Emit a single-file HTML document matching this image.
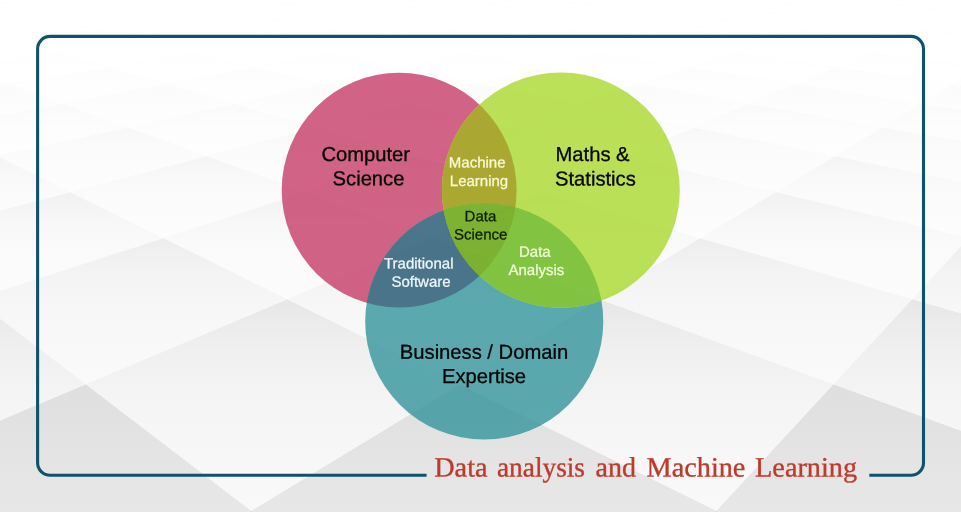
<!DOCTYPE html>
<html><head><meta charset="utf-8"><title>Data analysis and Machine Learning</title>
<style>
html,body{margin:0;padding:0;background:#f4f4f4;}
body{width:961px;height:512px;overflow:hidden;position:relative;font-family:"Liberation Sans",sans-serif;}
svg{position:absolute;left:0;top:0;display:block;}
text{font-family:"Liberation Sans",sans-serif;}
.big{font-size:20.2px;fill:#050505;stroke:#050505;stroke-width:0.3px;}
.sm{font-size:15px;}
.w{fill:#fdfbd6;stroke:#fdfbd6;stroke-width:0.25px;}
.wb{fill:#f2f8fc;stroke:#f2f8fc;}
.wg{fill:#f4fbdc;stroke:#f4fbdc;}
.k{fill:#0d1a05;stroke:#0d1a05;stroke-width:0.25px;}
.title{font-family:"Liberation Serif",serif;font-size:28px;fill:#be3a2a;stroke:#be3a2a;stroke-width:0.35px;}
</style></head><body>
<svg width="961" height="512" viewBox="0 0 961 512">
<defs>
<linearGradient id="g0" gradientUnits="userSpaceOnUse" x1="0" y1="510.6" x2="0" y2="1127.1"><stop offset="0" stop-color="rgb(212,212,213)"/><stop offset="0.22" stop-color="rgb(218,218,218)"/><stop offset="0.5" stop-color="rgb(226,226,226)"/><stop offset="1" stop-color="rgb(240,240,240)"/></linearGradient>
<linearGradient id="g1" gradientUnits="userSpaceOnUse" x1="0" y1="510.6" x2="0" y2="1127.1"><stop offset="0" stop-color="rgb(212,212,213)"/><stop offset="0.22" stop-color="rgb(218,218,218)"/><stop offset="0.5" stop-color="rgb(226,226,226)"/><stop offset="1" stop-color="rgb(240,240,240)"/></linearGradient>
<linearGradient id="g2" gradientUnits="userSpaceOnUse" x1="0" y1="384.0" x2="0" y2="719.2"><stop offset="0" stop-color="rgb(223,223,224)"/><stop offset="0.22" stop-color="rgb(228,228,228)"/><stop offset="0.5" stop-color="rgb(234,234,234)"/><stop offset="1" stop-color="rgb(246,246,246)"/></linearGradient>
<linearGradient id="g3" gradientUnits="userSpaceOnUse" x1="0" y1="384.0" x2="0" y2="719.2"><stop offset="0" stop-color="rgb(223,223,224)"/><stop offset="0.22" stop-color="rgb(228,228,228)"/><stop offset="0.5" stop-color="rgb(234,234,234)"/><stop offset="1" stop-color="rgb(246,246,246)"/></linearGradient>
<linearGradient id="g4" gradientUnits="userSpaceOnUse" x1="0" y1="384.0" x2="0" y2="719.2"><stop offset="0" stop-color="rgb(223,223,224)"/><stop offset="0.22" stop-color="rgb(228,228,228)"/><stop offset="0.5" stop-color="rgb(234,234,234)"/><stop offset="1" stop-color="rgb(246,246,246)"/></linearGradient>
<linearGradient id="g5" gradientUnits="userSpaceOnUse" x1="0" y1="299.0" x2="0" y2="510.6"><stop offset="0" stop-color="rgb(231,231,232)"/><stop offset="0.22" stop-color="rgb(239,239,239)"/><stop offset="0.5" stop-color="rgb(245,245,245)"/><stop offset="1" stop-color="rgb(249,249,249)"/></linearGradient>
<linearGradient id="g6" gradientUnits="userSpaceOnUse" x1="0" y1="299.0" x2="0" y2="510.6"><stop offset="0" stop-color="rgb(231,231,232)"/><stop offset="0.22" stop-color="rgb(239,239,239)"/><stop offset="0.5" stop-color="rgb(245,245,245)"/><stop offset="1" stop-color="rgb(249,249,249)"/></linearGradient>
<linearGradient id="g7" gradientUnits="userSpaceOnUse" x1="0" y1="299.0" x2="0" y2="510.6"><stop offset="0" stop-color="rgb(231,231,232)"/><stop offset="0.22" stop-color="rgb(239,239,239)"/><stop offset="0.5" stop-color="rgb(245,245,245)"/><stop offset="1" stop-color="rgb(249,249,249)"/></linearGradient>
<linearGradient id="g8" gradientUnits="userSpaceOnUse" x1="0" y1="299.0" x2="0" y2="510.6"><stop offset="0" stop-color="rgb(231,231,232)"/><stop offset="0.22" stop-color="rgb(239,239,239)"/><stop offset="0.5" stop-color="rgb(245,245,245)"/><stop offset="1" stop-color="rgb(249,249,249)"/></linearGradient>
<linearGradient id="g9" gradientUnits="userSpaceOnUse" x1="0" y1="237.9" x2="0" y2="384.0"><stop offset="0" stop-color="rgb(237,237,238)"/><stop offset="0.22" stop-color="rgb(243,243,243)"/><stop offset="0.5" stop-color="rgb(247,247,247)"/><stop offset="1" stop-color="rgb(250,250,250)"/></linearGradient>
<linearGradient id="g10" gradientUnits="userSpaceOnUse" x1="0" y1="237.9" x2="0" y2="384.0"><stop offset="0" stop-color="rgb(237,237,238)"/><stop offset="0.22" stop-color="rgb(243,243,243)"/><stop offset="0.5" stop-color="rgb(247,247,247)"/><stop offset="1" stop-color="rgb(250,250,250)"/></linearGradient>
<linearGradient id="g11" gradientUnits="userSpaceOnUse" x1="0" y1="237.9" x2="0" y2="384.0"><stop offset="0" stop-color="rgb(237,237,238)"/><stop offset="0.22" stop-color="rgb(243,243,243)"/><stop offset="0.5" stop-color="rgb(247,247,247)"/><stop offset="1" stop-color="rgb(250,250,250)"/></linearGradient>
<linearGradient id="g12" gradientUnits="userSpaceOnUse" x1="0" y1="237.9" x2="0" y2="384.0"><stop offset="0" stop-color="rgb(237,237,238)"/><stop offset="0.22" stop-color="rgb(243,243,243)"/><stop offset="0.5" stop-color="rgb(247,247,247)"/><stop offset="1" stop-color="rgb(250,250,250)"/></linearGradient>
<linearGradient id="g13" gradientUnits="userSpaceOnUse" x1="0" y1="192.0" x2="0" y2="299.0"><stop offset="0" stop-color="rgb(241,241,242)"/><stop offset="0.22" stop-color="rgb(246,246,246)"/><stop offset="0.5" stop-color="rgb(250,250,250)"/><stop offset="1" stop-color="rgb(252,252,252)"/></linearGradient>
<linearGradient id="g14" gradientUnits="userSpaceOnUse" x1="0" y1="192.0" x2="0" y2="299.0"><stop offset="0" stop-color="rgb(241,241,242)"/><stop offset="0.22" stop-color="rgb(246,246,246)"/><stop offset="0.5" stop-color="rgb(250,250,250)"/><stop offset="1" stop-color="rgb(252,252,252)"/></linearGradient>
<linearGradient id="g15" gradientUnits="userSpaceOnUse" x1="0" y1="192.0" x2="0" y2="299.0"><stop offset="0" stop-color="rgb(241,241,242)"/><stop offset="0.22" stop-color="rgb(246,246,246)"/><stop offset="0.5" stop-color="rgb(250,250,250)"/><stop offset="1" stop-color="rgb(252,252,252)"/></linearGradient>
<linearGradient id="g16" gradientUnits="userSpaceOnUse" x1="0" y1="192.0" x2="0" y2="299.0"><stop offset="0" stop-color="rgb(241,241,242)"/><stop offset="0.22" stop-color="rgb(246,246,246)"/><stop offset="0.5" stop-color="rgb(250,250,250)"/><stop offset="1" stop-color="rgb(252,252,252)"/></linearGradient>
<linearGradient id="g17" gradientUnits="userSpaceOnUse" x1="0" y1="156.1" x2="0" y2="237.9"><stop offset="0" stop-color="rgb(244,244,245)"/><stop offset="0.22" stop-color="rgb(248,248,248)"/><stop offset="0.5" stop-color="rgb(251,251,251)"/><stop offset="1" stop-color="rgb(253,253,253)"/></linearGradient>
<linearGradient id="g18" gradientUnits="userSpaceOnUse" x1="0" y1="156.1" x2="0" y2="237.9"><stop offset="0" stop-color="rgb(244,244,245)"/><stop offset="0.22" stop-color="rgb(248,248,248)"/><stop offset="0.5" stop-color="rgb(251,251,251)"/><stop offset="1" stop-color="rgb(253,253,253)"/></linearGradient>
<linearGradient id="g19" gradientUnits="userSpaceOnUse" x1="0" y1="156.1" x2="0" y2="237.9"><stop offset="0" stop-color="rgb(244,244,245)"/><stop offset="0.22" stop-color="rgb(248,248,248)"/><stop offset="0.5" stop-color="rgb(251,251,251)"/><stop offset="1" stop-color="rgb(253,253,253)"/></linearGradient>
<linearGradient id="g20" gradientUnits="userSpaceOnUse" x1="0" y1="156.1" x2="0" y2="237.9"><stop offset="0" stop-color="rgb(244,244,245)"/><stop offset="0.22" stop-color="rgb(248,248,248)"/><stop offset="0.5" stop-color="rgb(251,251,251)"/><stop offset="1" stop-color="rgb(253,253,253)"/></linearGradient>
<linearGradient id="g21" gradientUnits="userSpaceOnUse" x1="0" y1="156.1" x2="0" y2="237.9"><stop offset="0" stop-color="rgb(244,244,245)"/><stop offset="0.22" stop-color="rgb(248,248,248)"/><stop offset="0.5" stop-color="rgb(251,251,251)"/><stop offset="1" stop-color="rgb(253,253,253)"/></linearGradient>
<linearGradient id="g22" gradientUnits="userSpaceOnUse" x1="0" y1="127.4" x2="0" y2="192.0"><stop offset="0" stop-color="rgb(247,247,248)"/><stop offset="0.22" stop-color="rgb(250,250,250)"/><stop offset="0.5" stop-color="rgb(252,252,252)"/><stop offset="1" stop-color="rgb(253,253,253)"/></linearGradient>
<linearGradient id="g23" gradientUnits="userSpaceOnUse" x1="0" y1="127.4" x2="0" y2="192.0"><stop offset="0" stop-color="rgb(247,247,248)"/><stop offset="0.22" stop-color="rgb(250,250,250)"/><stop offset="0.5" stop-color="rgb(252,252,252)"/><stop offset="1" stop-color="rgb(253,253,253)"/></linearGradient>
<linearGradient id="g24" gradientUnits="userSpaceOnUse" x1="0" y1="127.4" x2="0" y2="192.0"><stop offset="0" stop-color="rgb(247,247,248)"/><stop offset="0.22" stop-color="rgb(250,250,250)"/><stop offset="0.5" stop-color="rgb(252,252,252)"/><stop offset="1" stop-color="rgb(253,253,253)"/></linearGradient>
<linearGradient id="g25" gradientUnits="userSpaceOnUse" x1="0" y1="127.4" x2="0" y2="192.0"><stop offset="0" stop-color="rgb(247,247,248)"/><stop offset="0.22" stop-color="rgb(250,250,250)"/><stop offset="0.5" stop-color="rgb(252,252,252)"/><stop offset="1" stop-color="rgb(253,253,253)"/></linearGradient>
<linearGradient id="g26" gradientUnits="userSpaceOnUse" x1="0" y1="127.4" x2="0" y2="192.0"><stop offset="0" stop-color="rgb(247,247,248)"/><stop offset="0.22" stop-color="rgb(250,250,250)"/><stop offset="0.5" stop-color="rgb(252,252,252)"/><stop offset="1" stop-color="rgb(253,253,253)"/></linearGradient>
<linearGradient id="g27" gradientUnits="userSpaceOnUse" x1="0" y1="103.8" x2="0" y2="156.1"><stop offset="0" stop-color="rgb(249,249,250)"/><stop offset="0.22" stop-color="rgb(251,251,251)"/><stop offset="0.5" stop-color="rgb(253,253,253)"/><stop offset="1" stop-color="rgb(254,254,254)"/></linearGradient>
<linearGradient id="g28" gradientUnits="userSpaceOnUse" x1="0" y1="103.8" x2="0" y2="156.1"><stop offset="0" stop-color="rgb(249,249,250)"/><stop offset="0.22" stop-color="rgb(251,251,251)"/><stop offset="0.5" stop-color="rgb(253,253,253)"/><stop offset="1" stop-color="rgb(254,254,254)"/></linearGradient>
<linearGradient id="g29" gradientUnits="userSpaceOnUse" x1="0" y1="103.8" x2="0" y2="156.1"><stop offset="0" stop-color="rgb(249,249,250)"/><stop offset="0.22" stop-color="rgb(251,251,251)"/><stop offset="0.5" stop-color="rgb(253,253,253)"/><stop offset="1" stop-color="rgb(254,254,254)"/></linearGradient>
<linearGradient id="g30" gradientUnits="userSpaceOnUse" x1="0" y1="103.8" x2="0" y2="156.1"><stop offset="0" stop-color="rgb(249,249,250)"/><stop offset="0.22" stop-color="rgb(251,251,251)"/><stop offset="0.5" stop-color="rgb(253,253,253)"/><stop offset="1" stop-color="rgb(254,254,254)"/></linearGradient>
<linearGradient id="g31" gradientUnits="userSpaceOnUse" x1="0" y1="103.8" x2="0" y2="156.1"><stop offset="0" stop-color="rgb(249,249,250)"/><stop offset="0.22" stop-color="rgb(251,251,251)"/><stop offset="0.5" stop-color="rgb(253,253,253)"/><stop offset="1" stop-color="rgb(254,254,254)"/></linearGradient>
<linearGradient id="g32" gradientUnits="userSpaceOnUse" x1="0" y1="103.8" x2="0" y2="156.1"><stop offset="0" stop-color="rgb(249,249,250)"/><stop offset="0.22" stop-color="rgb(251,251,251)"/><stop offset="0.5" stop-color="rgb(253,253,253)"/><stop offset="1" stop-color="rgb(254,254,254)"/></linearGradient>
<linearGradient id="g33" gradientUnits="userSpaceOnUse" x1="0" y1="84.1" x2="0" y2="127.4"><stop offset="0" stop-color="rgb(251,251,252)"/><stop offset="0.22" stop-color="rgb(252,252,252)"/><stop offset="0.5" stop-color="rgb(253,253,253)"/><stop offset="1" stop-color="rgb(254,254,254)"/></linearGradient>
<linearGradient id="g34" gradientUnits="userSpaceOnUse" x1="0" y1="84.1" x2="0" y2="127.4"><stop offset="0" stop-color="rgb(251,251,252)"/><stop offset="0.22" stop-color="rgb(252,252,252)"/><stop offset="0.5" stop-color="rgb(253,253,253)"/><stop offset="1" stop-color="rgb(254,254,254)"/></linearGradient>
<linearGradient id="g35" gradientUnits="userSpaceOnUse" x1="0" y1="84.1" x2="0" y2="127.4"><stop offset="0" stop-color="rgb(251,251,252)"/><stop offset="0.22" stop-color="rgb(252,252,252)"/><stop offset="0.5" stop-color="rgb(253,253,253)"/><stop offset="1" stop-color="rgb(254,254,254)"/></linearGradient>
<linearGradient id="g36" gradientUnits="userSpaceOnUse" x1="0" y1="84.1" x2="0" y2="127.4"><stop offset="0" stop-color="rgb(251,251,252)"/><stop offset="0.22" stop-color="rgb(252,252,252)"/><stop offset="0.5" stop-color="rgb(253,253,253)"/><stop offset="1" stop-color="rgb(254,254,254)"/></linearGradient>
<linearGradient id="g37" gradientUnits="userSpaceOnUse" x1="0" y1="84.1" x2="0" y2="127.4"><stop offset="0" stop-color="rgb(251,251,252)"/><stop offset="0.22" stop-color="rgb(252,252,252)"/><stop offset="0.5" stop-color="rgb(253,253,253)"/><stop offset="1" stop-color="rgb(254,254,254)"/></linearGradient>
<linearGradient id="g38" gradientUnits="userSpaceOnUse" x1="0" y1="84.1" x2="0" y2="127.4"><stop offset="0" stop-color="rgb(251,251,252)"/><stop offset="0.22" stop-color="rgb(252,252,252)"/><stop offset="0.5" stop-color="rgb(253,253,253)"/><stop offset="1" stop-color="rgb(254,254,254)"/></linearGradient>
<linearGradient id="g39" gradientUnits="userSpaceOnUse" x1="0" y1="84.1" x2="0" y2="127.4"><stop offset="0" stop-color="rgb(251,251,252)"/><stop offset="0.22" stop-color="rgb(252,252,252)"/><stop offset="0.5" stop-color="rgb(253,253,253)"/><stop offset="1" stop-color="rgb(254,254,254)"/></linearGradient>
<linearGradient id="g40" gradientUnits="userSpaceOnUse" x1="0" y1="67.5" x2="0" y2="103.8"><stop offset="0" stop-color="rgb(252,252,253)"/><stop offset="0.22" stop-color="rgb(253,253,253)"/><stop offset="0.5" stop-color="rgb(254,254,254)"/><stop offset="1" stop-color="rgb(254,254,254)"/></linearGradient>
<linearGradient id="g41" gradientUnits="userSpaceOnUse" x1="0" y1="67.5" x2="0" y2="103.8"><stop offset="0" stop-color="rgb(252,252,253)"/><stop offset="0.22" stop-color="rgb(253,253,253)"/><stop offset="0.5" stop-color="rgb(254,254,254)"/><stop offset="1" stop-color="rgb(254,254,254)"/></linearGradient>
<linearGradient id="g42" gradientUnits="userSpaceOnUse" x1="0" y1="67.5" x2="0" y2="103.8"><stop offset="0" stop-color="rgb(252,252,253)"/><stop offset="0.22" stop-color="rgb(253,253,253)"/><stop offset="0.5" stop-color="rgb(254,254,254)"/><stop offset="1" stop-color="rgb(254,254,254)"/></linearGradient>
<linearGradient id="g43" gradientUnits="userSpaceOnUse" x1="0" y1="67.5" x2="0" y2="103.8"><stop offset="0" stop-color="rgb(252,252,253)"/><stop offset="0.22" stop-color="rgb(253,253,253)"/><stop offset="0.5" stop-color="rgb(254,254,254)"/><stop offset="1" stop-color="rgb(254,254,254)"/></linearGradient>
<linearGradient id="g44" gradientUnits="userSpaceOnUse" x1="0" y1="67.5" x2="0" y2="103.8"><stop offset="0" stop-color="rgb(252,252,253)"/><stop offset="0.22" stop-color="rgb(253,253,253)"/><stop offset="0.5" stop-color="rgb(254,254,254)"/><stop offset="1" stop-color="rgb(254,254,254)"/></linearGradient>
<linearGradient id="g45" gradientUnits="userSpaceOnUse" x1="0" y1="67.5" x2="0" y2="103.8"><stop offset="0" stop-color="rgb(252,252,253)"/><stop offset="0.22" stop-color="rgb(253,253,253)"/><stop offset="0.5" stop-color="rgb(254,254,254)"/><stop offset="1" stop-color="rgb(254,254,254)"/></linearGradient>
<linearGradient id="g46" gradientUnits="userSpaceOnUse" x1="0" y1="67.5" x2="0" y2="103.8"><stop offset="0" stop-color="rgb(252,252,253)"/><stop offset="0.22" stop-color="rgb(253,253,253)"/><stop offset="0.5" stop-color="rgb(254,254,254)"/><stop offset="1" stop-color="rgb(254,254,254)"/></linearGradient>
<linearGradient id="g47" gradientUnits="userSpaceOnUse" x1="0" y1="67.5" x2="0" y2="103.8"><stop offset="0" stop-color="rgb(252,252,253)"/><stop offset="0.22" stop-color="rgb(253,253,253)"/><stop offset="0.5" stop-color="rgb(254,254,254)"/><stop offset="1" stop-color="rgb(254,254,254)"/></linearGradient>
<linearGradient id="g48" gradientUnits="userSpaceOnUse" x1="0" y1="53.2" x2="0" y2="84.1"><stop offset="0" stop-color="rgb(254,254,255)"/><stop offset="0.22" stop-color="rgb(254,254,254)"/><stop offset="0.5" stop-color="rgb(255,255,255)"/><stop offset="1" stop-color="rgb(255,255,255)"/></linearGradient>
<linearGradient id="g49" gradientUnits="userSpaceOnUse" x1="0" y1="53.2" x2="0" y2="84.1"><stop offset="0" stop-color="rgb(254,254,255)"/><stop offset="0.22" stop-color="rgb(254,254,254)"/><stop offset="0.5" stop-color="rgb(255,255,255)"/><stop offset="1" stop-color="rgb(255,255,255)"/></linearGradient>
<linearGradient id="g50" gradientUnits="userSpaceOnUse" x1="0" y1="53.2" x2="0" y2="84.1"><stop offset="0" stop-color="rgb(254,254,255)"/><stop offset="0.22" stop-color="rgb(254,254,254)"/><stop offset="0.5" stop-color="rgb(255,255,255)"/><stop offset="1" stop-color="rgb(255,255,255)"/></linearGradient>
<linearGradient id="g51" gradientUnits="userSpaceOnUse" x1="0" y1="53.2" x2="0" y2="84.1"><stop offset="0" stop-color="rgb(254,254,255)"/><stop offset="0.22" stop-color="rgb(254,254,254)"/><stop offset="0.5" stop-color="rgb(255,255,255)"/><stop offset="1" stop-color="rgb(255,255,255)"/></linearGradient>
<linearGradient id="g52" gradientUnits="userSpaceOnUse" x1="0" y1="53.2" x2="0" y2="84.1"><stop offset="0" stop-color="rgb(254,254,255)"/><stop offset="0.22" stop-color="rgb(254,254,254)"/><stop offset="0.5" stop-color="rgb(255,255,255)"/><stop offset="1" stop-color="rgb(255,255,255)"/></linearGradient>
<linearGradient id="g53" gradientUnits="userSpaceOnUse" x1="0" y1="53.2" x2="0" y2="84.1"><stop offset="0" stop-color="rgb(254,254,255)"/><stop offset="0.22" stop-color="rgb(254,254,254)"/><stop offset="0.5" stop-color="rgb(255,255,255)"/><stop offset="1" stop-color="rgb(255,255,255)"/></linearGradient>
<linearGradient id="g54" gradientUnits="userSpaceOnUse" x1="0" y1="53.2" x2="0" y2="84.1"><stop offset="0" stop-color="rgb(254,254,255)"/><stop offset="0.22" stop-color="rgb(254,254,254)"/><stop offset="0.5" stop-color="rgb(255,255,255)"/><stop offset="1" stop-color="rgb(255,255,255)"/></linearGradient>
<linearGradient id="g55" gradientUnits="userSpaceOnUse" x1="0" y1="40.8" x2="0" y2="67.5"><stop offset="0" stop-color="rgb(255,255,256)"/><stop offset="0.22" stop-color="rgb(255,255,255)"/><stop offset="0.5" stop-color="rgb(255,255,255)"/><stop offset="1" stop-color="rgb(255,255,255)"/></linearGradient>
<linearGradient id="g56" gradientUnits="userSpaceOnUse" x1="0" y1="40.8" x2="0" y2="67.5"><stop offset="0" stop-color="rgb(255,255,256)"/><stop offset="0.22" stop-color="rgb(255,255,255)"/><stop offset="0.5" stop-color="rgb(255,255,255)"/><stop offset="1" stop-color="rgb(255,255,255)"/></linearGradient>
<linearGradient id="g57" gradientUnits="userSpaceOnUse" x1="0" y1="40.8" x2="0" y2="67.5"><stop offset="0" stop-color="rgb(255,255,256)"/><stop offset="0.22" stop-color="rgb(255,255,255)"/><stop offset="0.5" stop-color="rgb(255,255,255)"/><stop offset="1" stop-color="rgb(255,255,255)"/></linearGradient>
<linearGradient id="g58" gradientUnits="userSpaceOnUse" x1="0" y1="40.8" x2="0" y2="67.5"><stop offset="0" stop-color="rgb(255,255,256)"/><stop offset="0.22" stop-color="rgb(255,255,255)"/><stop offset="0.5" stop-color="rgb(255,255,255)"/><stop offset="1" stop-color="rgb(255,255,255)"/></linearGradient>
<linearGradient id="g59" gradientUnits="userSpaceOnUse" x1="0" y1="40.8" x2="0" y2="67.5"><stop offset="0" stop-color="rgb(255,255,256)"/><stop offset="0.22" stop-color="rgb(255,255,255)"/><stop offset="0.5" stop-color="rgb(255,255,255)"/><stop offset="1" stop-color="rgb(255,255,255)"/></linearGradient>
<linearGradient id="g60" gradientUnits="userSpaceOnUse" x1="0" y1="40.8" x2="0" y2="67.5"><stop offset="0" stop-color="rgb(255,255,256)"/><stop offset="0.22" stop-color="rgb(255,255,255)"/><stop offset="0.5" stop-color="rgb(255,255,255)"/><stop offset="1" stop-color="rgb(255,255,255)"/></linearGradient>
<linearGradient id="g61" gradientUnits="userSpaceOnUse" x1="0" y1="40.8" x2="0" y2="67.5"><stop offset="0" stop-color="rgb(255,255,256)"/><stop offset="0.22" stop-color="rgb(255,255,255)"/><stop offset="0.5" stop-color="rgb(255,255,255)"/><stop offset="1" stop-color="rgb(255,255,255)"/></linearGradient>
<linearGradient id="g62" gradientUnits="userSpaceOnUse" x1="0" y1="40.8" x2="0" y2="67.5"><stop offset="0" stop-color="rgb(255,255,256)"/><stop offset="0.22" stop-color="rgb(255,255,255)"/><stop offset="0.5" stop-color="rgb(255,255,255)"/><stop offset="1" stop-color="rgb(255,255,255)"/></linearGradient>
<linearGradient id="g63" gradientUnits="userSpaceOnUse" x1="0" y1="29.9" x2="0" y2="53.2"><stop offset="0" stop-color="rgb(255,255,256)"/><stop offset="0.22" stop-color="rgb(255,255,255)"/><stop offset="0.5" stop-color="rgb(255,255,255)"/><stop offset="1" stop-color="rgb(255,255,255)"/></linearGradient>
<linearGradient id="g64" gradientUnits="userSpaceOnUse" x1="0" y1="29.9" x2="0" y2="53.2"><stop offset="0" stop-color="rgb(255,255,256)"/><stop offset="0.22" stop-color="rgb(255,255,255)"/><stop offset="0.5" stop-color="rgb(255,255,255)"/><stop offset="1" stop-color="rgb(255,255,255)"/></linearGradient>
<linearGradient id="g65" gradientUnits="userSpaceOnUse" x1="0" y1="29.9" x2="0" y2="53.2"><stop offset="0" stop-color="rgb(255,255,256)"/><stop offset="0.22" stop-color="rgb(255,255,255)"/><stop offset="0.5" stop-color="rgb(255,255,255)"/><stop offset="1" stop-color="rgb(255,255,255)"/></linearGradient>
<linearGradient id="g66" gradientUnits="userSpaceOnUse" x1="0" y1="29.9" x2="0" y2="53.2"><stop offset="0" stop-color="rgb(255,255,256)"/><stop offset="0.22" stop-color="rgb(255,255,255)"/><stop offset="0.5" stop-color="rgb(255,255,255)"/><stop offset="1" stop-color="rgb(255,255,255)"/></linearGradient>
<linearGradient id="g67" gradientUnits="userSpaceOnUse" x1="0" y1="29.9" x2="0" y2="53.2"><stop offset="0" stop-color="rgb(255,255,256)"/><stop offset="0.22" stop-color="rgb(255,255,255)"/><stop offset="0.5" stop-color="rgb(255,255,255)"/><stop offset="1" stop-color="rgb(255,255,255)"/></linearGradient>
<linearGradient id="g68" gradientUnits="userSpaceOnUse" x1="0" y1="29.9" x2="0" y2="53.2"><stop offset="0" stop-color="rgb(255,255,256)"/><stop offset="0.22" stop-color="rgb(255,255,255)"/><stop offset="0.5" stop-color="rgb(255,255,255)"/><stop offset="1" stop-color="rgb(255,255,255)"/></linearGradient>
<linearGradient id="g69" gradientUnits="userSpaceOnUse" x1="0" y1="29.9" x2="0" y2="53.2"><stop offset="0" stop-color="rgb(255,255,256)"/><stop offset="0.22" stop-color="rgb(255,255,255)"/><stop offset="0.5" stop-color="rgb(255,255,255)"/><stop offset="1" stop-color="rgb(255,255,255)"/></linearGradient>
<linearGradient id="g70" gradientUnits="userSpaceOnUse" x1="0" y1="29.9" x2="0" y2="53.2"><stop offset="0" stop-color="rgb(255,255,256)"/><stop offset="0.22" stop-color="rgb(255,255,255)"/><stop offset="0.5" stop-color="rgb(255,255,255)"/><stop offset="1" stop-color="rgb(255,255,255)"/></linearGradient>
<linearGradient id="g71" gradientUnits="userSpaceOnUse" x1="0" y1="29.9" x2="0" y2="53.2"><stop offset="0" stop-color="rgb(255,255,256)"/><stop offset="0.22" stop-color="rgb(255,255,255)"/><stop offset="0.5" stop-color="rgb(255,255,255)"/><stop offset="1" stop-color="rgb(255,255,255)"/></linearGradient>
<linearGradient id="g72" gradientUnits="userSpaceOnUse" x1="0" y1="20.3" x2="0" y2="40.8"><stop offset="0" stop-color="rgb(255,255,256)"/><stop offset="0.22" stop-color="rgb(255,255,255)"/><stop offset="0.5" stop-color="rgb(255,255,255)"/><stop offset="1" stop-color="rgb(255,255,255)"/></linearGradient>
<linearGradient id="g73" gradientUnits="userSpaceOnUse" x1="0" y1="20.3" x2="0" y2="40.8"><stop offset="0" stop-color="rgb(255,255,256)"/><stop offset="0.22" stop-color="rgb(255,255,255)"/><stop offset="0.5" stop-color="rgb(255,255,255)"/><stop offset="1" stop-color="rgb(255,255,255)"/></linearGradient>
<linearGradient id="g74" gradientUnits="userSpaceOnUse" x1="0" y1="20.3" x2="0" y2="40.8"><stop offset="0" stop-color="rgb(255,255,256)"/><stop offset="0.22" stop-color="rgb(255,255,255)"/><stop offset="0.5" stop-color="rgb(255,255,255)"/><stop offset="1" stop-color="rgb(255,255,255)"/></linearGradient>
<linearGradient id="g75" gradientUnits="userSpaceOnUse" x1="0" y1="20.3" x2="0" y2="40.8"><stop offset="0" stop-color="rgb(255,255,256)"/><stop offset="0.22" stop-color="rgb(255,255,255)"/><stop offset="0.5" stop-color="rgb(255,255,255)"/><stop offset="1" stop-color="rgb(255,255,255)"/></linearGradient>
<linearGradient id="g76" gradientUnits="userSpaceOnUse" x1="0" y1="20.3" x2="0" y2="40.8"><stop offset="0" stop-color="rgb(255,255,256)"/><stop offset="0.22" stop-color="rgb(255,255,255)"/><stop offset="0.5" stop-color="rgb(255,255,255)"/><stop offset="1" stop-color="rgb(255,255,255)"/></linearGradient>
<linearGradient id="g77" gradientUnits="userSpaceOnUse" x1="0" y1="20.3" x2="0" y2="40.8"><stop offset="0" stop-color="rgb(255,255,256)"/><stop offset="0.22" stop-color="rgb(255,255,255)"/><stop offset="0.5" stop-color="rgb(255,255,255)"/><stop offset="1" stop-color="rgb(255,255,255)"/></linearGradient>
<linearGradient id="g78" gradientUnits="userSpaceOnUse" x1="0" y1="20.3" x2="0" y2="40.8"><stop offset="0" stop-color="rgb(255,255,256)"/><stop offset="0.22" stop-color="rgb(255,255,255)"/><stop offset="0.5" stop-color="rgb(255,255,255)"/><stop offset="1" stop-color="rgb(255,255,255)"/></linearGradient>
<linearGradient id="g79" gradientUnits="userSpaceOnUse" x1="0" y1="20.3" x2="0" y2="40.8"><stop offset="0" stop-color="rgb(255,255,256)"/><stop offset="0.22" stop-color="rgb(255,255,255)"/><stop offset="0.5" stop-color="rgb(255,255,255)"/><stop offset="1" stop-color="rgb(255,255,255)"/></linearGradient>
<linearGradient id="g80" gradientUnits="userSpaceOnUse" x1="0" y1="20.3" x2="0" y2="40.8"><stop offset="0" stop-color="rgb(255,255,256)"/><stop offset="0.22" stop-color="rgb(255,255,255)"/><stop offset="0.5" stop-color="rgb(255,255,255)"/><stop offset="1" stop-color="rgb(255,255,255)"/></linearGradient>
<linearGradient id="g81" gradientUnits="userSpaceOnUse" x1="0" y1="11.8" x2="0" y2="29.9"><stop offset="0" stop-color="rgb(255,255,256)"/><stop offset="0.22" stop-color="rgb(255,255,255)"/><stop offset="0.5" stop-color="rgb(255,255,255)"/><stop offset="1" stop-color="rgb(255,255,255)"/></linearGradient>
<linearGradient id="g82" gradientUnits="userSpaceOnUse" x1="0" y1="11.8" x2="0" y2="29.9"><stop offset="0" stop-color="rgb(255,255,256)"/><stop offset="0.22" stop-color="rgb(255,255,255)"/><stop offset="0.5" stop-color="rgb(255,255,255)"/><stop offset="1" stop-color="rgb(255,255,255)"/></linearGradient>
<linearGradient id="g83" gradientUnits="userSpaceOnUse" x1="0" y1="11.8" x2="0" y2="29.9"><stop offset="0" stop-color="rgb(255,255,256)"/><stop offset="0.22" stop-color="rgb(255,255,255)"/><stop offset="0.5" stop-color="rgb(255,255,255)"/><stop offset="1" stop-color="rgb(255,255,255)"/></linearGradient>
<linearGradient id="g84" gradientUnits="userSpaceOnUse" x1="0" y1="11.8" x2="0" y2="29.9"><stop offset="0" stop-color="rgb(255,255,256)"/><stop offset="0.22" stop-color="rgb(255,255,255)"/><stop offset="0.5" stop-color="rgb(255,255,255)"/><stop offset="1" stop-color="rgb(255,255,255)"/></linearGradient>
<linearGradient id="g85" gradientUnits="userSpaceOnUse" x1="0" y1="11.8" x2="0" y2="29.9"><stop offset="0" stop-color="rgb(255,255,256)"/><stop offset="0.22" stop-color="rgb(255,255,255)"/><stop offset="0.5" stop-color="rgb(255,255,255)"/><stop offset="1" stop-color="rgb(255,255,255)"/></linearGradient>
<linearGradient id="g86" gradientUnits="userSpaceOnUse" x1="0" y1="11.8" x2="0" y2="29.9"><stop offset="0" stop-color="rgb(255,255,256)"/><stop offset="0.22" stop-color="rgb(255,255,255)"/><stop offset="0.5" stop-color="rgb(255,255,255)"/><stop offset="1" stop-color="rgb(255,255,255)"/></linearGradient>
<linearGradient id="g87" gradientUnits="userSpaceOnUse" x1="0" y1="11.8" x2="0" y2="29.9"><stop offset="0" stop-color="rgb(255,255,256)"/><stop offset="0.22" stop-color="rgb(255,255,255)"/><stop offset="0.5" stop-color="rgb(255,255,255)"/><stop offset="1" stop-color="rgb(255,255,255)"/></linearGradient>
<linearGradient id="g88" gradientUnits="userSpaceOnUse" x1="0" y1="11.8" x2="0" y2="29.9"><stop offset="0" stop-color="rgb(255,255,256)"/><stop offset="0.22" stop-color="rgb(255,255,255)"/><stop offset="0.5" stop-color="rgb(255,255,255)"/><stop offset="1" stop-color="rgb(255,255,255)"/></linearGradient>
<linearGradient id="g89" gradientUnits="userSpaceOnUse" x1="0" y1="11.8" x2="0" y2="29.9"><stop offset="0" stop-color="rgb(255,255,256)"/><stop offset="0.22" stop-color="rgb(255,255,255)"/><stop offset="0.5" stop-color="rgb(255,255,255)"/><stop offset="1" stop-color="rgb(255,255,255)"/></linearGradient>
<linearGradient id="g90" gradientUnits="userSpaceOnUse" x1="0" y1="11.8" x2="0" y2="29.9"><stop offset="0" stop-color="rgb(255,255,256)"/><stop offset="0.22" stop-color="rgb(255,255,255)"/><stop offset="0.5" stop-color="rgb(255,255,255)"/><stop offset="1" stop-color="rgb(255,255,255)"/></linearGradient>
<linearGradient id="g91" gradientUnits="userSpaceOnUse" x1="0" y1="4.2" x2="0" y2="20.3"><stop offset="0" stop-color="rgb(255,255,256)"/><stop offset="0.22" stop-color="rgb(255,255,255)"/><stop offset="0.5" stop-color="rgb(255,255,255)"/><stop offset="1" stop-color="rgb(255,255,255)"/></linearGradient>
<linearGradient id="g92" gradientUnits="userSpaceOnUse" x1="0" y1="4.2" x2="0" y2="20.3"><stop offset="0" stop-color="rgb(255,255,256)"/><stop offset="0.22" stop-color="rgb(255,255,255)"/><stop offset="0.5" stop-color="rgb(255,255,255)"/><stop offset="1" stop-color="rgb(255,255,255)"/></linearGradient>
<linearGradient id="g93" gradientUnits="userSpaceOnUse" x1="0" y1="4.2" x2="0" y2="20.3"><stop offset="0" stop-color="rgb(255,255,256)"/><stop offset="0.22" stop-color="rgb(255,255,255)"/><stop offset="0.5" stop-color="rgb(255,255,255)"/><stop offset="1" stop-color="rgb(255,255,255)"/></linearGradient>
<linearGradient id="g94" gradientUnits="userSpaceOnUse" x1="0" y1="4.2" x2="0" y2="20.3"><stop offset="0" stop-color="rgb(255,255,256)"/><stop offset="0.22" stop-color="rgb(255,255,255)"/><stop offset="0.5" stop-color="rgb(255,255,255)"/><stop offset="1" stop-color="rgb(255,255,255)"/></linearGradient>
<linearGradient id="g95" gradientUnits="userSpaceOnUse" x1="0" y1="4.2" x2="0" y2="20.3"><stop offset="0" stop-color="rgb(255,255,256)"/><stop offset="0.22" stop-color="rgb(255,255,255)"/><stop offset="0.5" stop-color="rgb(255,255,255)"/><stop offset="1" stop-color="rgb(255,255,255)"/></linearGradient>
<linearGradient id="g96" gradientUnits="userSpaceOnUse" x1="0" y1="4.2" x2="0" y2="20.3"><stop offset="0" stop-color="rgb(255,255,256)"/><stop offset="0.22" stop-color="rgb(255,255,255)"/><stop offset="0.5" stop-color="rgb(255,255,255)"/><stop offset="1" stop-color="rgb(255,255,255)"/></linearGradient>
<linearGradient id="g97" gradientUnits="userSpaceOnUse" x1="0" y1="4.2" x2="0" y2="20.3"><stop offset="0" stop-color="rgb(255,255,256)"/><stop offset="0.22" stop-color="rgb(255,255,255)"/><stop offset="0.5" stop-color="rgb(255,255,255)"/><stop offset="1" stop-color="rgb(255,255,255)"/></linearGradient>
<linearGradient id="g98" gradientUnits="userSpaceOnUse" x1="0" y1="4.2" x2="0" y2="20.3"><stop offset="0" stop-color="rgb(255,255,256)"/><stop offset="0.22" stop-color="rgb(255,255,255)"/><stop offset="0.5" stop-color="rgb(255,255,255)"/><stop offset="1" stop-color="rgb(255,255,255)"/></linearGradient>
<linearGradient id="g99" gradientUnits="userSpaceOnUse" x1="0" y1="4.2" x2="0" y2="20.3"><stop offset="0" stop-color="rgb(255,255,256)"/><stop offset="0.22" stop-color="rgb(255,255,255)"/><stop offset="0.5" stop-color="rgb(255,255,255)"/><stop offset="1" stop-color="rgb(255,255,255)"/></linearGradient>
<linearGradient id="g100" gradientUnits="userSpaceOnUse" x1="0" y1="4.2" x2="0" y2="20.3"><stop offset="0" stop-color="rgb(255,255,256)"/><stop offset="0.22" stop-color="rgb(255,255,255)"/><stop offset="0.5" stop-color="rgb(255,255,255)"/><stop offset="1" stop-color="rgb(255,255,255)"/></linearGradient>
<linearGradient id="g101" gradientUnits="userSpaceOnUse" x1="0" y1="-2.7" x2="0" y2="11.8"><stop offset="0" stop-color="rgb(255,255,256)"/><stop offset="0.22" stop-color="rgb(255,255,255)"/><stop offset="0.5" stop-color="rgb(255,255,255)"/><stop offset="1" stop-color="rgb(255,255,255)"/></linearGradient>
<linearGradient id="g102" gradientUnits="userSpaceOnUse" x1="0" y1="-2.7" x2="0" y2="11.8"><stop offset="0" stop-color="rgb(255,255,256)"/><stop offset="0.22" stop-color="rgb(255,255,255)"/><stop offset="0.5" stop-color="rgb(255,255,255)"/><stop offset="1" stop-color="rgb(255,255,255)"/></linearGradient>
<linearGradient id="g103" gradientUnits="userSpaceOnUse" x1="0" y1="-2.7" x2="0" y2="11.8"><stop offset="0" stop-color="rgb(255,255,256)"/><stop offset="0.22" stop-color="rgb(255,255,255)"/><stop offset="0.5" stop-color="rgb(255,255,255)"/><stop offset="1" stop-color="rgb(255,255,255)"/></linearGradient>
<linearGradient id="g104" gradientUnits="userSpaceOnUse" x1="0" y1="-2.7" x2="0" y2="11.8"><stop offset="0" stop-color="rgb(255,255,256)"/><stop offset="0.22" stop-color="rgb(255,255,255)"/><stop offset="0.5" stop-color="rgb(255,255,255)"/><stop offset="1" stop-color="rgb(255,255,255)"/></linearGradient>
<linearGradient id="g105" gradientUnits="userSpaceOnUse" x1="0" y1="-2.7" x2="0" y2="11.8"><stop offset="0" stop-color="rgb(255,255,256)"/><stop offset="0.22" stop-color="rgb(255,255,255)"/><stop offset="0.5" stop-color="rgb(255,255,255)"/><stop offset="1" stop-color="rgb(255,255,255)"/></linearGradient>
<linearGradient id="g106" gradientUnits="userSpaceOnUse" x1="0" y1="-2.7" x2="0" y2="11.8"><stop offset="0" stop-color="rgb(255,255,256)"/><stop offset="0.22" stop-color="rgb(255,255,255)"/><stop offset="0.5" stop-color="rgb(255,255,255)"/><stop offset="1" stop-color="rgb(255,255,255)"/></linearGradient>
<linearGradient id="g107" gradientUnits="userSpaceOnUse" x1="0" y1="-2.7" x2="0" y2="11.8"><stop offset="0" stop-color="rgb(255,255,256)"/><stop offset="0.22" stop-color="rgb(255,255,255)"/><stop offset="0.5" stop-color="rgb(255,255,255)"/><stop offset="1" stop-color="rgb(255,255,255)"/></linearGradient>
<linearGradient id="g108" gradientUnits="userSpaceOnUse" x1="0" y1="-2.7" x2="0" y2="11.8"><stop offset="0" stop-color="rgb(255,255,256)"/><stop offset="0.22" stop-color="rgb(255,255,255)"/><stop offset="0.5" stop-color="rgb(255,255,255)"/><stop offset="1" stop-color="rgb(255,255,255)"/></linearGradient>
<linearGradient id="g109" gradientUnits="userSpaceOnUse" x1="0" y1="-2.7" x2="0" y2="11.8"><stop offset="0" stop-color="rgb(255,255,256)"/><stop offset="0.22" stop-color="rgb(255,255,255)"/><stop offset="0.5" stop-color="rgb(255,255,255)"/><stop offset="1" stop-color="rgb(255,255,255)"/></linearGradient>
<linearGradient id="g110" gradientUnits="userSpaceOnUse" x1="0" y1="-2.7" x2="0" y2="11.8"><stop offset="0" stop-color="rgb(255,255,256)"/><stop offset="0.22" stop-color="rgb(255,255,255)"/><stop offset="0.5" stop-color="rgb(255,255,255)"/><stop offset="1" stop-color="rgb(255,255,255)"/></linearGradient>
<linearGradient id="g111" gradientUnits="userSpaceOnUse" x1="0" y1="-8.9" x2="0" y2="4.2"><stop offset="0" stop-color="rgb(255,255,256)"/><stop offset="0.22" stop-color="rgb(255,255,255)"/><stop offset="0.5" stop-color="rgb(255,255,255)"/><stop offset="1" stop-color="rgb(255,255,255)"/></linearGradient>
<linearGradient id="g112" gradientUnits="userSpaceOnUse" x1="0" y1="-8.9" x2="0" y2="4.2"><stop offset="0" stop-color="rgb(255,255,256)"/><stop offset="0.22" stop-color="rgb(255,255,255)"/><stop offset="0.5" stop-color="rgb(255,255,255)"/><stop offset="1" stop-color="rgb(255,255,255)"/></linearGradient>
<linearGradient id="g113" gradientUnits="userSpaceOnUse" x1="0" y1="-8.9" x2="0" y2="4.2"><stop offset="0" stop-color="rgb(255,255,256)"/><stop offset="0.22" stop-color="rgb(255,255,255)"/><stop offset="0.5" stop-color="rgb(255,255,255)"/><stop offset="1" stop-color="rgb(255,255,255)"/></linearGradient>
<linearGradient id="g114" gradientUnits="userSpaceOnUse" x1="0" y1="-8.9" x2="0" y2="4.2"><stop offset="0" stop-color="rgb(255,255,256)"/><stop offset="0.22" stop-color="rgb(255,255,255)"/><stop offset="0.5" stop-color="rgb(255,255,255)"/><stop offset="1" stop-color="rgb(255,255,255)"/></linearGradient>
<linearGradient id="g115" gradientUnits="userSpaceOnUse" x1="0" y1="-8.9" x2="0" y2="4.2"><stop offset="0" stop-color="rgb(255,255,256)"/><stop offset="0.22" stop-color="rgb(255,255,255)"/><stop offset="0.5" stop-color="rgb(255,255,255)"/><stop offset="1" stop-color="rgb(255,255,255)"/></linearGradient>
<linearGradient id="g116" gradientUnits="userSpaceOnUse" x1="0" y1="-8.9" x2="0" y2="4.2"><stop offset="0" stop-color="rgb(255,255,256)"/><stop offset="0.22" stop-color="rgb(255,255,255)"/><stop offset="0.5" stop-color="rgb(255,255,255)"/><stop offset="1" stop-color="rgb(255,255,255)"/></linearGradient>
<linearGradient id="g117" gradientUnits="userSpaceOnUse" x1="0" y1="-8.9" x2="0" y2="4.2"><stop offset="0" stop-color="rgb(255,255,256)"/><stop offset="0.22" stop-color="rgb(255,255,255)"/><stop offset="0.5" stop-color="rgb(255,255,255)"/><stop offset="1" stop-color="rgb(255,255,255)"/></linearGradient>
<linearGradient id="g118" gradientUnits="userSpaceOnUse" x1="0" y1="-8.9" x2="0" y2="4.2"><stop offset="0" stop-color="rgb(255,255,256)"/><stop offset="0.22" stop-color="rgb(255,255,255)"/><stop offset="0.5" stop-color="rgb(255,255,255)"/><stop offset="1" stop-color="rgb(255,255,255)"/></linearGradient>
<linearGradient id="g119" gradientUnits="userSpaceOnUse" x1="0" y1="-8.9" x2="0" y2="4.2"><stop offset="0" stop-color="rgb(255,255,256)"/><stop offset="0.22" stop-color="rgb(255,255,255)"/><stop offset="0.5" stop-color="rgb(255,255,255)"/><stop offset="1" stop-color="rgb(255,255,255)"/></linearGradient>
<linearGradient id="g120" gradientUnits="userSpaceOnUse" x1="0" y1="-8.9" x2="0" y2="4.2"><stop offset="0" stop-color="rgb(255,255,256)"/><stop offset="0.22" stop-color="rgb(255,255,255)"/><stop offset="0.5" stop-color="rgb(255,255,255)"/><stop offset="1" stop-color="rgb(255,255,255)"/></linearGradient>
<linearGradient id="g121" gradientUnits="userSpaceOnUse" x1="0" y1="-8.9" x2="0" y2="4.2"><stop offset="0" stop-color="rgb(255,255,256)"/><stop offset="0.22" stop-color="rgb(255,255,255)"/><stop offset="0.5" stop-color="rgb(255,255,255)"/><stop offset="1" stop-color="rgb(255,255,255)"/></linearGradient>
<clipPath id="cP"><ellipse cx="399.15" cy="190.15" rx="117.45" ry="117.35"/></clipPath>
<clipPath id="cG"><ellipse cx="560.85" cy="190.15" rx="118.95" ry="117.55"/></clipPath>
<clipPath id="cT"><ellipse cx="484.25" cy="321.4" rx="119.05" ry="118.2"/></clipPath>
</defs>
<rect width="961" height="512" fill="#f6f6f6"/>
<g id="bg">
<polygon points="251.2,510.6 523.6,719.2 146.4,1127.1 -92.1,719.2" fill="url(#g0)"/>
<polygon points="716.4,510.6 1139.2,719.2 1056.4,1127.1 523.6,719.2" fill="url(#g1)"/>
<polygon points="85.8,384.0 251.2,510.6 -92.1,719.2 -214.0,510.6" fill="url(#g2)"/>
<polygon points="459.6,384.0 716.4,510.6 523.6,719.2 251.2,510.6" fill="url(#g3)"/>
<polygon points="833.4,384.0 1181.6,510.6 1139.2,719.2 716.4,510.6" fill="url(#g4)"/>
<polygon points="-25.2,299.0 85.8,384.0 -214.0,510.6 -288.0,384.0" fill="url(#g5)"/>
<polygon points="287.2,299.0 459.6,384.0 251.2,510.6 85.8,384.0" fill="url(#g6)"/>
<polygon points="599.6,299.0 833.4,384.0 716.4,510.6 459.6,384.0" fill="url(#g7)"/>
<polygon points="912.1,299.0 1207.3,384.0 1181.6,510.6 833.4,384.0" fill="url(#g8)"/>
<polygon points="163.4,237.9 287.2,299.0 85.8,384.0 -25.2,299.0" fill="url(#g9)"/>
<polygon points="431.8,237.9 599.6,299.0 459.6,384.0 287.2,299.0" fill="url(#g10)"/>
<polygon points="700.1,237.9 912.1,299.0 833.4,384.0 599.6,299.0" fill="url(#g11)"/>
<polygon points="968.5,237.9 1224.5,299.0 1207.3,384.0 912.1,299.0" fill="url(#g12)"/>
<polygon points="70.2,192.0 163.4,237.9 -25.2,299.0 -105.0,237.9" fill="url(#g13)"/>
<polygon points="305.4,192.0 431.8,237.9 287.2,299.0 163.4,237.9" fill="url(#g14)"/>
<polygon points="540.6,192.0 700.1,237.9 599.6,299.0 431.8,237.9" fill="url(#g15)"/>
<polygon points="775.8,192.0 968.5,237.9 912.1,299.0 700.1,237.9" fill="url(#g16)"/>
<polygon points="-2.5,156.1 70.2,192.0 -105.0,237.9 -165.0,192.0" fill="url(#g17)"/>
<polygon points="206.8,156.1 305.4,192.0 163.4,237.9 70.2,192.0" fill="url(#g18)"/>
<polygon points="416.2,156.1 540.6,192.0 431.8,237.9 305.4,192.0" fill="url(#g19)"/>
<polygon points="625.5,156.1 775.8,192.0 700.1,237.9 540.6,192.0" fill="url(#g20)"/>
<polygon points="834.8,156.1 1011.0,192.0 968.5,237.9 775.8,192.0" fill="url(#g21)"/>
<polygon points="127.8,127.4 206.8,156.1 70.2,192.0 -2.5,156.1" fill="url(#g22)"/>
<polygon points="316.4,127.4 416.2,156.1 305.4,192.0 206.8,156.1" fill="url(#g23)"/>
<polygon points="505.0,127.4 625.5,156.1 540.6,192.0 416.2,156.1" fill="url(#g24)"/>
<polygon points="693.6,127.4 834.8,156.1 775.8,192.0 625.5,156.1" fill="url(#g25)"/>
<polygon points="882.2,127.4 1044.2,156.1 1011.0,192.0 834.8,156.1" fill="url(#g26)"/>
<polygon points="63.0,103.8 127.8,127.4 -2.5,156.1 -60.8,127.4" fill="url(#g27)"/>
<polygon points="234.6,103.8 316.4,127.4 206.8,156.1 127.8,127.4" fill="url(#g28)"/>
<polygon points="406.2,103.8 505.0,127.4 416.2,156.1 316.4,127.4" fill="url(#g29)"/>
<polygon points="577.8,103.8 693.6,127.4 625.5,156.1 505.0,127.4" fill="url(#g30)"/>
<polygon points="749.4,103.8 882.2,127.4 834.8,156.1 693.6,127.4" fill="url(#g31)"/>
<polygon points="920.9,103.8 1070.8,127.4 1044.2,156.1 882.2,127.4" fill="url(#g32)"/>
<polygon points="8.9,84.1 63.0,103.8 -60.8,127.4 -108.6,103.8" fill="url(#g33)"/>
<polygon points="166.3,84.1 234.6,103.8 127.8,127.4 63.0,103.8" fill="url(#g34)"/>
<polygon points="323.7,84.1 406.2,103.8 316.4,127.4 234.6,103.8" fill="url(#g35)"/>
<polygon points="481.1,84.1 577.8,103.8 505.0,127.4 406.2,103.8" fill="url(#g36)"/>
<polygon points="638.5,84.1 749.4,103.8 693.6,127.4 577.8,103.8" fill="url(#g37)"/>
<polygon points="795.9,84.1 920.9,103.8 882.2,127.4 749.4,103.8" fill="url(#g38)"/>
<polygon points="953.3,84.1 1092.5,103.8 1070.8,127.4 920.9,103.8" fill="url(#g39)"/>
<polygon points="-36.9,67.5 8.9,84.1 -108.6,103.8 -148.5,84.1" fill="url(#g40)"/>
<polygon points="108.5,67.5 166.3,84.1 63.0,103.8 8.9,84.1" fill="url(#g41)"/>
<polygon points="253.9,67.5 323.7,84.1 234.6,103.8 166.3,84.1" fill="url(#g42)"/>
<polygon points="399.2,67.5 481.1,84.1 406.2,103.8 323.7,84.1" fill="url(#g43)"/>
<polygon points="544.6,67.5 638.5,84.1 577.8,103.8 481.1,84.1" fill="url(#g44)"/>
<polygon points="690.0,67.5 795.9,84.1 749.4,103.8 638.5,84.1" fill="url(#g45)"/>
<polygon points="835.4,67.5 953.3,84.1 920.9,103.8 795.9,84.1" fill="url(#g46)"/>
<polygon points="980.8,67.5 1110.7,84.1 1092.5,103.8 953.3,84.1" fill="url(#g47)"/>
<polygon points="58.9,53.2 108.5,67.5 8.9,84.1 -36.9,67.5" fill="url(#g48)"/>
<polygon points="193.9,53.2 253.9,67.5 166.3,84.1 108.5,67.5" fill="url(#g49)"/>
<polygon points="329.0,53.2 399.2,67.5 323.7,84.1 253.9,67.5" fill="url(#g50)"/>
<polygon points="464.0,53.2 544.6,67.5 481.1,84.1 399.2,67.5" fill="url(#g51)"/>
<polygon points="599.1,53.2 690.0,67.5 638.5,84.1 544.6,67.5" fill="url(#g52)"/>
<polygon points="734.2,53.2 835.4,67.5 795.9,84.1 690.0,67.5" fill="url(#g53)"/>
<polygon points="869.2,53.2 980.8,67.5 953.3,84.1 835.4,67.5" fill="url(#g54)"/>
<polygon points="15.8,40.8 58.9,53.2 -36.9,67.5 -76.2,53.2" fill="url(#g55)"/>
<polygon points="141.9,40.8 193.9,53.2 108.5,67.5 58.9,53.2" fill="url(#g56)"/>
<polygon points="268.0,40.8 329.0,53.2 253.9,67.5 193.9,53.2" fill="url(#g57)"/>
<polygon points="394.1,40.8 464.0,53.2 399.2,67.5 329.0,53.2" fill="url(#g58)"/>
<polygon points="520.3,40.8 599.1,53.2 544.6,67.5 464.0,53.2" fill="url(#g59)"/>
<polygon points="646.4,40.8 734.2,53.2 690.0,67.5 599.1,53.2" fill="url(#g60)"/>
<polygon points="772.5,40.8 869.2,53.2 835.4,67.5 734.2,53.2" fill="url(#g61)"/>
<polygon points="898.6,40.8 1004.3,53.2 980.8,67.5 869.2,53.2" fill="url(#g62)"/>
<polygon points="-21.9,29.9 15.8,40.8 -76.2,53.2 -110.3,40.8" fill="url(#g63)"/>
<polygon points="96.4,29.9 141.9,40.8 58.9,53.2 15.8,40.8" fill="url(#g64)"/>
<polygon points="214.7,29.9 268.0,40.8 193.9,53.2 141.9,40.8" fill="url(#g65)"/>
<polygon points="332.9,29.9 394.1,40.8 329.0,53.2 268.0,40.8" fill="url(#g66)"/>
<polygon points="451.2,29.9 520.3,40.8 464.0,53.2 394.1,40.8" fill="url(#g67)"/>
<polygon points="569.5,29.9 646.4,40.8 599.1,53.2 520.3,40.8" fill="url(#g68)"/>
<polygon points="687.8,29.9 772.5,40.8 734.2,53.2 646.4,40.8" fill="url(#g69)"/>
<polygon points="806.0,29.9 898.6,40.8 869.2,53.2 772.5,40.8" fill="url(#g70)"/>
<polygon points="924.3,29.9 1024.7,40.8 1004.3,53.2 898.6,40.8" fill="url(#g71)"/>
<polygon points="56.2,20.3 96.4,29.9 15.8,40.8 -21.9,29.9" fill="url(#g72)"/>
<polygon points="167.5,20.3 214.7,29.9 141.9,40.8 96.4,29.9" fill="url(#g73)"/>
<polygon points="278.9,20.3 332.9,29.9 268.0,40.8 214.7,29.9" fill="url(#g74)"/>
<polygon points="390.2,20.3 451.2,29.9 394.1,40.8 332.9,29.9" fill="url(#g75)"/>
<polygon points="501.6,20.3 569.5,29.9 520.3,40.8 451.2,29.9" fill="url(#g76)"/>
<polygon points="613.0,20.3 687.8,29.9 646.4,40.8 569.5,29.9" fill="url(#g77)"/>
<polygon points="724.3,20.3 806.0,29.9 772.5,40.8 687.8,29.9" fill="url(#g78)"/>
<polygon points="835.7,20.3 924.3,29.9 898.6,40.8 806.0,29.9" fill="url(#g79)"/>
<polygon points="947.0,20.3 1042.6,29.9 1024.7,40.8 924.3,29.9" fill="url(#g80)"/>
<polygon points="20.4,11.8 56.2,20.3 -21.9,29.9 -55.2,20.3" fill="url(#g81)"/>
<polygon points="125.6,11.8 167.5,20.3 96.4,29.9 56.2,20.3" fill="url(#g82)"/>
<polygon points="230.8,11.8 278.9,20.3 214.7,29.9 167.5,20.3" fill="url(#g83)"/>
<polygon points="336.0,11.8 390.2,20.3 332.9,29.9 278.9,20.3" fill="url(#g84)"/>
<polygon points="441.2,11.8 501.6,20.3 451.2,29.9 390.2,20.3" fill="url(#g85)"/>
<polygon points="546.4,11.8 613.0,20.3 569.5,29.9 501.6,20.3" fill="url(#g86)"/>
<polygon points="651.6,11.8 724.3,20.3 687.8,29.9 613.0,20.3" fill="url(#g87)"/>
<polygon points="756.8,11.8 835.7,20.3 806.0,29.9 724.3,20.3" fill="url(#g88)"/>
<polygon points="862.0,11.8 947.0,20.3 924.3,29.9 835.7,20.3" fill="url(#g89)"/>
<polygon points="967.2,11.8 1058.4,20.3 1042.6,29.9 947.0,20.3" fill="url(#g90)"/>
<polygon points="-11.6,4.2 20.4,11.8 -55.2,20.3 -84.8,11.8" fill="url(#g91)"/>
<polygon points="88.1,4.2 125.6,11.8 56.2,20.3 20.4,11.8" fill="url(#g92)"/>
<polygon points="187.8,4.2 230.8,11.8 167.5,20.3 125.6,11.8" fill="url(#g93)"/>
<polygon points="287.5,4.2 336.0,11.8 278.9,20.3 230.8,11.8" fill="url(#g94)"/>
<polygon points="387.2,4.2 441.2,11.8 390.2,20.3 336.0,11.8" fill="url(#g95)"/>
<polygon points="486.8,4.2 546.4,11.8 501.6,20.3 441.2,11.8" fill="url(#g96)"/>
<polygon points="586.5,4.2 651.6,11.8 613.0,20.3 546.4,11.8" fill="url(#g97)"/>
<polygon points="686.2,4.2 756.8,11.8 724.3,20.3 651.6,11.8" fill="url(#g98)"/>
<polygon points="785.9,4.2 862.0,11.8 835.7,20.3 756.8,11.8" fill="url(#g99)"/>
<polygon points="885.6,4.2 967.2,11.8 947.0,20.3 862.0,11.8" fill="url(#g100)"/>
<polygon points="54.3,-2.7 88.1,4.2 20.4,11.8 -11.6,4.2" fill="url(#g101)"/>
<polygon points="149.0,-2.7 187.8,4.2 125.6,11.8 88.1,4.2" fill="url(#g102)"/>
<polygon points="243.8,-2.7 287.5,4.2 230.8,11.8 187.8,4.2" fill="url(#g103)"/>
<polygon points="338.5,-2.7 387.2,4.2 336.0,11.8 287.5,4.2" fill="url(#g104)"/>
<polygon points="433.2,-2.7 486.8,4.2 441.2,11.8 387.2,4.2" fill="url(#g105)"/>
<polygon points="527.9,-2.7 586.5,4.2 546.4,11.8 486.8,4.2" fill="url(#g106)"/>
<polygon points="622.7,-2.7 686.2,4.2 651.6,11.8 586.5,4.2" fill="url(#g107)"/>
<polygon points="717.4,-2.7 785.9,4.2 756.8,11.8 686.2,4.2" fill="url(#g108)"/>
<polygon points="812.1,-2.7 885.6,4.2 862.0,11.8 785.9,4.2" fill="url(#g109)"/>
<polygon points="906.8,-2.7 985.3,4.2 967.2,11.8 885.6,4.2" fill="url(#g110)"/>
<polygon points="23.7,-8.9 54.3,-2.7 -11.6,4.2 -40.4,-2.7" fill="url(#g111)"/>
<polygon points="114.0,-8.9 149.0,-2.7 88.1,4.2 54.3,-2.7" fill="url(#g112)"/>
<polygon points="204.2,-8.9 243.8,-2.7 187.8,4.2 149.0,-2.7" fill="url(#g113)"/>
<polygon points="294.4,-8.9 338.5,-2.7 287.5,4.2 243.8,-2.7" fill="url(#g114)"/>
<polygon points="384.7,-8.9 433.2,-2.7 387.2,4.2 338.5,-2.7" fill="url(#g115)"/>
<polygon points="474.9,-8.9 527.9,-2.7 486.8,4.2 433.2,-2.7" fill="url(#g116)"/>
<polygon points="565.1,-8.9 622.7,-2.7 586.5,4.2 527.9,-2.7" fill="url(#g117)"/>
<polygon points="655.4,-8.9 717.4,-2.7 686.2,4.2 622.7,-2.7" fill="url(#g118)"/>
<polygon points="745.6,-8.9 812.1,-2.7 785.9,4.2 717.4,-2.7" fill="url(#g119)"/>
<polygon points="835.8,-8.9 906.8,-2.7 885.6,4.2 812.1,-2.7" fill="url(#g120)"/>
<polygon points="926.1,-8.9 1001.6,-2.7 985.3,4.2 906.8,-2.7" fill="url(#g121)"/>
<path d="M-92.1 719.2L251.2 510.6L523.6 719.2M523.6 719.2L716.4 510.6L1139.2 719.2M-214.0 510.6L85.8 384.0L251.2 510.6M251.2 510.6L459.6 384.0L716.4 510.6M716.4 510.6L833.4 384.0L1181.6 510.6M-288.0 384.0L-25.2 299.0L85.8 384.0M85.8 384.0L287.2 299.0L459.6 384.0M459.6 384.0L599.6 299.0L833.4 384.0M833.4 384.0L912.1 299.0L1207.3 384.0M-25.2 299.0L163.4 237.9L287.2 299.0M287.2 299.0L431.8 237.9L599.6 299.0M599.6 299.0L700.1 237.9L912.1 299.0M912.1 299.0L968.5 237.9L1224.5 299.0M-105.0 237.9L70.2 192.0L163.4 237.9M163.4 237.9L305.4 192.0L431.8 237.9M431.8 237.9L540.6 192.0L700.1 237.9M700.1 237.9L775.8 192.0L968.5 237.9M-165.0 192.0L-2.5 156.1L70.2 192.0M70.2 192.0L206.8 156.1L305.4 192.0M305.4 192.0L416.2 156.1L540.6 192.0M540.6 192.0L625.5 156.1L775.8 192.0M775.8 192.0L834.8 156.1L1011.0 192.0M-2.5 156.1L127.8 127.4L206.8 156.1M206.8 156.1L316.4 127.4L416.2 156.1M416.2 156.1L505.0 127.4L625.5 156.1M625.5 156.1L693.6 127.4L834.8 156.1M834.8 156.1L882.2 127.4L1044.2 156.1M-60.8 127.4L63.0 103.8L127.8 127.4M127.8 127.4L234.6 103.8L316.4 127.4M316.4 127.4L406.2 103.8L505.0 127.4M505.0 127.4L577.8 103.8L693.6 127.4M693.6 127.4L749.4 103.8L882.2 127.4M882.2 127.4L920.9 103.8L1070.8 127.4M-108.6 103.8L8.9 84.1L63.0 103.8M63.0 103.8L166.3 84.1L234.6 103.8M234.6 103.8L323.7 84.1L406.2 103.8M406.2 103.8L481.1 84.1L577.8 103.8M577.8 103.8L638.5 84.1L749.4 103.8M749.4 103.8L795.9 84.1L920.9 103.8M920.9 103.8L953.3 84.1L1092.5 103.8M-148.5 84.1L-36.9 67.5L8.9 84.1M8.9 84.1L108.5 67.5L166.3 84.1M166.3 84.1L253.9 67.5L323.7 84.1M323.7 84.1L399.2 67.5L481.1 84.1M481.1 84.1L544.6 67.5L638.5 84.1M638.5 84.1L690.0 67.5L795.9 84.1M795.9 84.1L835.4 67.5L953.3 84.1M953.3 84.1L980.8 67.5L1110.7 84.1M-36.9 67.5L58.9 53.2L108.5 67.5M108.5 67.5L193.9 53.2L253.9 67.5M253.9 67.5L329.0 53.2L399.2 67.5M399.2 67.5L464.0 53.2L544.6 67.5M544.6 67.5L599.1 53.2L690.0 67.5M690.0 67.5L734.2 53.2L835.4 67.5M835.4 67.5L869.2 53.2L980.8 67.5M-76.2 53.2L15.8 40.8L58.9 53.2M58.9 53.2L141.9 40.8L193.9 53.2M193.9 53.2L268.0 40.8L329.0 53.2M329.0 53.2L394.1 40.8L464.0 53.2M464.0 53.2L520.3 40.8L599.1 53.2M599.1 53.2L646.4 40.8L734.2 53.2M734.2 53.2L772.5 40.8L869.2 53.2M869.2 53.2L898.6 40.8L1004.3 53.2M-110.3 40.8L-21.9 29.9L15.8 40.8M15.8 40.8L96.4 29.9L141.9 40.8M141.9 40.8L214.7 29.9L268.0 40.8M268.0 40.8L332.9 29.9L394.1 40.8M394.1 40.8L451.2 29.9L520.3 40.8M520.3 40.8L569.5 29.9L646.4 40.8M646.4 40.8L687.8 29.9L772.5 40.8M772.5 40.8L806.0 29.9L898.6 40.8M898.6 40.8L924.3 29.9L1024.7 40.8M-21.9 29.9L56.2 20.3L96.4 29.9M96.4 29.9L167.5 20.3L214.7 29.9M214.7 29.9L278.9 20.3L332.9 29.9M332.9 29.9L390.2 20.3L451.2 29.9M451.2 29.9L501.6 20.3L569.5 29.9M569.5 29.9L613.0 20.3L687.8 29.9M687.8 29.9L724.3 20.3L806.0 29.9M806.0 29.9L835.7 20.3L924.3 29.9M924.3 29.9L947.0 20.3L1042.6 29.9M-55.2 20.3L20.4 11.8L56.2 20.3M56.2 20.3L125.6 11.8L167.5 20.3M167.5 20.3L230.8 11.8L278.9 20.3M278.9 20.3L336.0 11.8L390.2 20.3M390.2 20.3L441.2 11.8L501.6 20.3M501.6 20.3L546.4 11.8L613.0 20.3M613.0 20.3L651.6 11.8L724.3 20.3M724.3 20.3L756.8 11.8L835.7 20.3M835.7 20.3L862.0 11.8L947.0 20.3M947.0 20.3L967.2 11.8L1058.4 20.3M-84.8 11.8L-11.6 4.2L20.4 11.8M20.4 11.8L88.1 4.2L125.6 11.8M125.6 11.8L187.8 4.2L230.8 11.8M230.8 11.8L287.5 4.2L336.0 11.8M336.0 11.8L387.2 4.2L441.2 11.8M441.2 11.8L486.8 4.2L546.4 11.8M546.4 11.8L586.5 4.2L651.6 11.8M651.6 11.8L686.2 4.2L756.8 11.8M756.8 11.8L785.9 4.2L862.0 11.8M862.0 11.8L885.6 4.2L967.2 11.8M-11.6 4.2L54.3 -2.7L88.1 4.2M88.1 4.2L149.0 -2.7L187.8 4.2M187.8 4.2L243.8 -2.7L287.5 4.2M287.5 4.2L338.5 -2.7L387.2 4.2M387.2 4.2L433.2 -2.7L486.8 4.2M486.8 4.2L527.9 -2.7L586.5 4.2M586.5 4.2L622.7 -2.7L686.2 4.2M686.2 4.2L717.4 -2.7L785.9 4.2M785.9 4.2L812.1 -2.7L885.6 4.2M885.6 4.2L906.8 -2.7L985.3 4.2M-40.4 -2.7L23.7 -8.9L54.3 -2.7M54.3 -2.7L114.0 -8.9L149.0 -2.7M149.0 -2.7L204.2 -8.9L243.8 -2.7M243.8 -2.7L294.4 -8.9L338.5 -2.7M338.5 -2.7L384.7 -8.9L433.2 -2.7M433.2 -2.7L474.9 -8.9L527.9 -2.7M527.9 -2.7L565.1 -8.9L622.7 -2.7M622.7 -2.7L655.4 -8.9L717.4 -2.7M717.4 -2.7L745.6 -8.9L812.1 -2.7M812.1 -2.7L835.8 -8.9L906.8 -2.7M906.8 -2.7L926.1 -8.9L1001.6 -2.7" fill="none" stroke="#fff" stroke-opacity="0.3" stroke-width="1"/>
</g>
<!-- frame -->
<path d="M426.6 475.2 H50.1 A12.5 12.5 0 0 1 37.6 462.7 V48.9 A12.5 12.5 0 0 1 50.1 36.4 H911 A12.5 12.5 0 0 1 923.5 48.9 V462.7 A12.5 12.5 0 0 1 911 475.2 H869.3" fill="none" stroke="#10526b" stroke-width="3.1"/>
<!-- venn -->
<g id="venn" opacity="0.8">
<ellipse cx="399.15" cy="190.15" rx="117.45" ry="117.35" fill="rgb(198,61,105)"/>
<ellipse cx="484.25" cy="321.4" rx="119.05" ry="118.2" fill="rgb(52,150,157)"/>
<ellipse cx="560.85" cy="190.15" rx="118.95" ry="117.55" fill="rgb(171,218,47)"/>
<g clip-path="url(#cP)"><ellipse cx="484.25" cy="321.4" rx="119.05" ry="118.2" fill="rgb(32,85,111)"/></g>
<g clip-path="url(#cP)"><ellipse cx="560.85" cy="190.15" rx="118.95" ry="117.55" fill="rgb(150,148,0)"/></g>
<g clip-path="url(#cT)"><ellipse cx="560.85" cy="190.15" rx="118.95" ry="117.55" fill="rgb(101,183,20)"/></g>
<g clip-path="url(#cP)"><g clip-path="url(#cT)"><ellipse cx="560.85" cy="190.15" rx="118.95" ry="117.55" fill="rgb(94,160,0)"/></g></g>
</g>
</svg>
<svg id="labels" width="961" height="512" viewBox="0 0 961 512" style="will-change:transform;opacity:0.999">
<text class="big" x="321.4" y="161.0" transform="rotate(0.03 321.4 161.0)">Computer</text>
<text class="big" x="332.6" y="185.25" transform="rotate(0.03 332.6 185.25)">Science</text>
<text class="big" x="555.5" y="161.0" transform="rotate(0.03 555.5 161.0)">Maths &amp;</text>
<text class="big" x="555.0" y="185.5" transform="rotate(0.03 555.0 185.5)">Statistics</text>
<text class="big" x="484" y="358.8" transform="rotate(0.03 484 358.8)" text-anchor="middle">Business / Domain</text>
<text class="big" x="484" y="383.05" transform="rotate(0.03 484 383.05)" text-anchor="middle">Expertise</text>
<text class="sm w" x="448.8" y="167.45" transform="rotate(0.03 448.8 167.45)">Machine</text>
<text class="sm w" x="449.8" y="186.0" transform="rotate(0.03 449.8 186.0)">Learning</text>
<text class="sm k" x="464.6" y="221.3" transform="rotate(0.03 464.6 221.3)">Data</text>
<text class="sm k" x="454.0" y="239.45" transform="rotate(0.03 454.0 239.45)">Science</text>
<text class="sm w wb" x="384.0" y="268.5" transform="rotate(0.03 384.0 268.5)">Traditional</text>
<text class="sm w wb" x="391.4" y="286.7" transform="rotate(0.03 391.4 286.7)">Software</text>
<text class="sm w wg" x="519.0" y="256.7" transform="rotate(0.03 519.0 256.7)">Data</text>
<text class="sm w wg" x="508.5" y="275.0" transform="rotate(0.03 508.5 275.0)">Analysis</text>
<text class="title" x="434.2" y="476.5" transform="rotate(0.03 434.2 476.5)" textLength="53.4" lengthAdjust="spacingAndGlyphs">Data</text>
<text class="title" x="497" y="476.5" transform="rotate(0.03 497 476.5)" textLength="88" lengthAdjust="spacingAndGlyphs">analysis</text>
<text class="title" x="595.6" y="476.5" transform="rotate(0.03 595.6 476.5)">and</text>
<text class="title" x="646.6" y="476.5" transform="rotate(0.03 646.6 476.5)" textLength="98.8" lengthAdjust="spacingAndGlyphs">Machine</text>
<text class="title" x="755.1" y="476.5" transform="rotate(0.03 755.1 476.5)" textLength="102" lengthAdjust="spacingAndGlyphs">Learning</text>
</svg>
</body></html>
